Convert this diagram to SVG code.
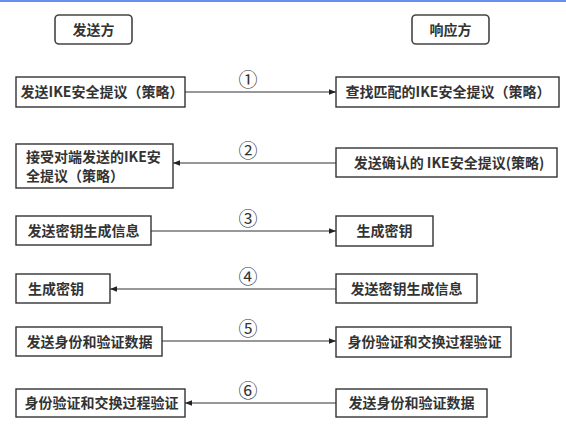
<svg xmlns="http://www.w3.org/2000/svg" width="566" height="426" viewBox="0 0 566 426">
<defs>
<style>
.box{fill:#fff;stroke:#333;stroke-width:1.4}
.hdr{fill:#fff;stroke:#444;stroke-width:1.6}
.t{font-family:"Noto Sans CJK SC","Noto Sans",sans-serif;font-size:14px;fill:#333;font-weight:700}
.c{text-anchor:middle}
.n{font-family:"Noto Sans CJK SC","DejaVu Sans",sans-serif;font-size:19px;fill:#333;text-anchor:middle}
.ln{stroke:#333;stroke-width:1.2;fill:none}
</style>
<marker id="ah" viewBox="0 0 10 10" refX="10" refY="5" markerWidth="9" markerHeight="7" markerUnits="userSpaceOnUse" orient="auto">
<path d="M0,1 L10,5 L0,9 Z" fill="#222"/>
</marker>
</defs>
<rect x="0" y="0" width="566" height="426" fill="#fff"/>
<rect x="0" y="0" width="566" height="2" fill="#6b8cf0"/>

<g id="sender">
<rect class="hdr" x="55" y="15" width="77" height="29" rx="4"/>
<text class="t c" x="93.5" y="34.5">发送方</text>
</g>
<g id="responder">
<rect class="hdr" x="412" y="15" width="77" height="29" rx="4"/>
<text class="t c" x="450.5" y="34.5">响应方</text>
</g>

<g id="s1">
<rect class="box" x="16" y="77" width="169" height="30"/>
<text class="t c" x="102" y="97">发送IKE安全提议（策略）</text>
</g>
<g id="r1">
<rect class="box" x="336" y="77" width="223" height="30"/>
<text class="t c" x="448" y="97">查找匹配的IKE安全提议（策略）</text>
</g>

<g id="s2">
<rect class="box" x="16" y="144" width="157" height="44"/>
<text class="t" x="26" y="162">接受对端发送的IKE安</text>
<text class="t" x="26" y="181">全提议（策略）</text>
</g>
<g id="r2">
<rect class="box" x="336" y="148" width="221" height="29"/>
<text class="t c" x="449" y="167.5">发送确认的 IKE安全提议(策略)</text>
</g>

<g id="s3">
<rect class="box" x="16" y="216" width="135" height="29"/>
<text class="t c" x="83.5" y="235.5">发送密钥生成信息</text>
</g>
<g id="r3">
<rect class="box" x="336" y="216" width="97" height="30"/>
<text class="t c" x="384.5" y="236">生成密钥</text>
</g>

<g id="s4">
<rect class="box" x="16" y="274" width="94" height="29"/>
<text class="t" x="28" y="293.5">生成密钥</text>
</g>
<g id="r4">
<rect class="box" x="336" y="274" width="141" height="29"/>
<text class="t c" x="406.5" y="293.5">发送密钥生成信息</text>
</g>

<g id="s5">
<rect class="box" x="16" y="327" width="146" height="29"/>
<text class="t c" x="89.5" y="346.5">发送身份和验证数据</text>
</g>
<g id="r5">
<rect class="box" x="336" y="327" width="175" height="30"/>
<text class="t c" x="424.5" y="347">身份验证和交换过程验证</text>
</g>

<g id="s6">
<rect class="box" x="16" y="389" width="169" height="28"/>
<text class="t c" x="101.5" y="408">身份验证和交换过程验证</text>
</g>
<g id="r6">
<rect class="box" x="336" y="389" width="151" height="28"/>
<text class="t c" x="411.5" y="408">发送身份和验证数据</text>
</g>

<g id="connectors">
<line class="ln" x1="185" y1="92" x2="336" y2="92" marker-end="url(#ah)"/>
<line class="ln" x1="336" y1="163" x2="173" y2="163" marker-end="url(#ah)"/>
<line class="ln" x1="151" y1="231" x2="336" y2="231" marker-end="url(#ah)"/>
<line class="ln" x1="336" y1="289" x2="110" y2="289" marker-end="url(#ah)"/>
<line class="ln" x1="162" y1="341" x2="336" y2="341" marker-end="url(#ah)"/>
<line class="ln" x1="336" y1="403" x2="185" y2="403" marker-end="url(#ah)"/>
<text class="n" x="248" y="87">①</text>
<text class="n" x="248" y="158">②</text>
<text class="n" x="248" y="226">③</text>
<text class="n" x="248" y="284">④</text>
<text class="n" x="248" y="336">⑤</text>
<text class="n" x="248" y="398">⑥</text>
</g>
</svg>
